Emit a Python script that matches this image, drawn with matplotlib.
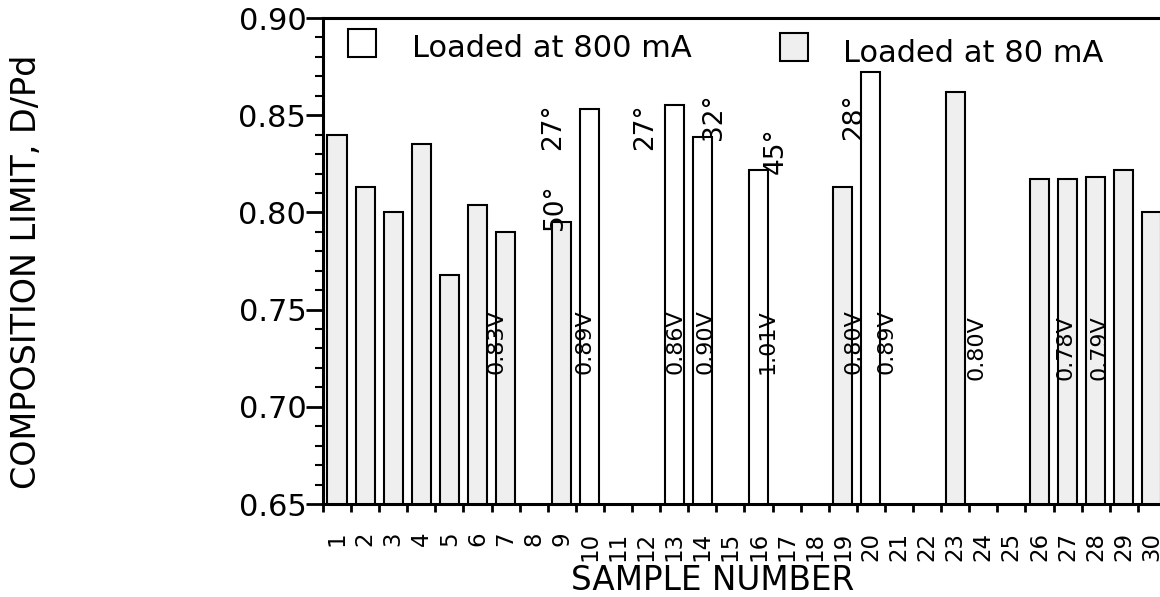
import matplotlib
matplotlib.use("Agg")
import matplotlib.pyplot as plt
from matplotlib.patches import Rectangle
from matplotlib.ticker import MultipleLocator

plt.rcParams['font.family'] = ['DejaVu Sans']

# samples loaded at 80 mA (grey bars)
samples_80 = [1, 2, 3, 4, 5, 6, 7, 9, 19, 23, 26, 27, 28, 29, 30]
comp_80 = [0.840, 0.813, 0.800, 0.835, 0.768, 0.804, 0.790, 0.795,
           0.813, 0.862, 0.817, 0.817, 0.818, 0.822, 0.800]

# samples loaded at 800 mA (white bars)
samples_800 = [10, 13, 14, 16, 20]
comp_800 = [0.853, 0.855, 0.839, 0.822, 0.872]

# voltage notes
volt_x = [6.68, 9.81, 13.03, 14.1, 16.33, 19.39, 20.54, 23.75, 26.92, 28.14]
volt_y = [0.717, 0.717, 0.717, 0.717, 0.717, 0.717, 0.717, 0.714, 0.714, 0.714]
volt_text = ["0.83V", "0.89V", "0.86V", "0.90V", "1.01V",
             "0.80V", "0.89V", "0.80V", "0.78V", "0.79V"]

# angle notes
ang_x = [8.74, 8.69, 11.95, 14.4, 16.6, 19.39]
ang_y = [0.791, 0.832, 0.832, 0.837, 0.820, 0.837]
ang_text = ["50°", "27°", "27°", "32°", "45°", "28°"]

sample_numbers = list(range(1, 31))

fig = plt.figure(figsize=(11.6, 5.97), dpi=100)
ax = fig.add_axes([323/1160, 93/597, 871/1160, 486/597])

grey = "#efefef"
ax.bar(samples_80, comp_80, width=0.68, color=grey,
       edgecolor="black", linewidth=1.5, zorder=2)
ax.bar(samples_800, comp_800, width=0.68, color="white",
       edgecolor="black", linewidth=1.5, zorder=2)

for x, y, t in zip(volt_x, volt_y, volt_text):
    ax.text(x, y, t, rotation=90, ha="center", va="bottom", fontsize=16, zorder=3)
for x, y, t in zip(ang_x, ang_y, ang_text):
    ax.text(x, y, t, rotation=90, ha="center", va="bottom", fontsize=19, zorder=3)

ax.set_xlim(0.5, 31.5)
ax.set_ylim(0.65, 0.90)

# y axis
ax.set_yticks([0.65, 0.70, 0.75, 0.80, 0.85, 0.90])
ax.set_yticklabels(["0.65", "0.70", "0.75", "0.80", "0.85", "0.90"])
ax.yaxis.set_minor_locator(MultipleLocator(0.01))
ax.tick_params(axis="y", which="major", direction="out", length=12, width=2,
               labelsize=22, pad=0)
ax.tick_params(axis="y", which="minor", direction="out", length=6, width=1.5)

# x axis: labels at centres, tick marks at boundaries
ax.set_xticks(sample_numbers)
ax.set_xticklabels([str(s) for s in sample_numbers], rotation=90)
ax.set_xticks([s + 0.5 for s in range(0, 31)], minor=True)
ax.tick_params(axis="x", which="major", length=0, labelsize=16.5, pad=20)
ax.tick_params(axis="x", which="minor", direction="out", length=6, width=2)

for side in ["left", "bottom", "top", "right"]:
    ax.spines[side].set_linewidth(2.2)

ax.set_xlabel("SAMPLE NUMBER", fontsize=23.5)
ax.xaxis.set_label_coords(0.447, -0.157)
ax.xaxis.label.set_va("center")
ax.set_ylabel("COMPOSITION LIMIT, D/Pd", fontsize=24)
ax.yaxis.set_label_coords(-0.340, 0.477)
ax.yaxis.label.set_va("center")

# legend drawn by hand
ax.add_patch(Rectangle((0.0287, 0.9198), 0.0321, 0.0576, transform=ax.transAxes,
                       facecolor="white", edgecolor="black", linewidth=1.5,
                       clip_on=False, zorder=4))
ax.text(0.102, 0.9198, "Loaded at 800 mA", transform=ax.transAxes,
        fontsize=22, va="baseline", ha="left")
ax.add_patch(Rectangle((0.5247, 0.9115), 0.0321, 0.0576, transform=ax.transAxes,
                       facecolor=grey, edgecolor="black", linewidth=1.5,
                       clip_on=False, zorder=4))
ax.text(0.597, 0.909, "Loaded at 80 mA", transform=ax.transAxes,
        fontsize=22, va="baseline", ha="left")

fig.savefig("out.png", dpi=100)
